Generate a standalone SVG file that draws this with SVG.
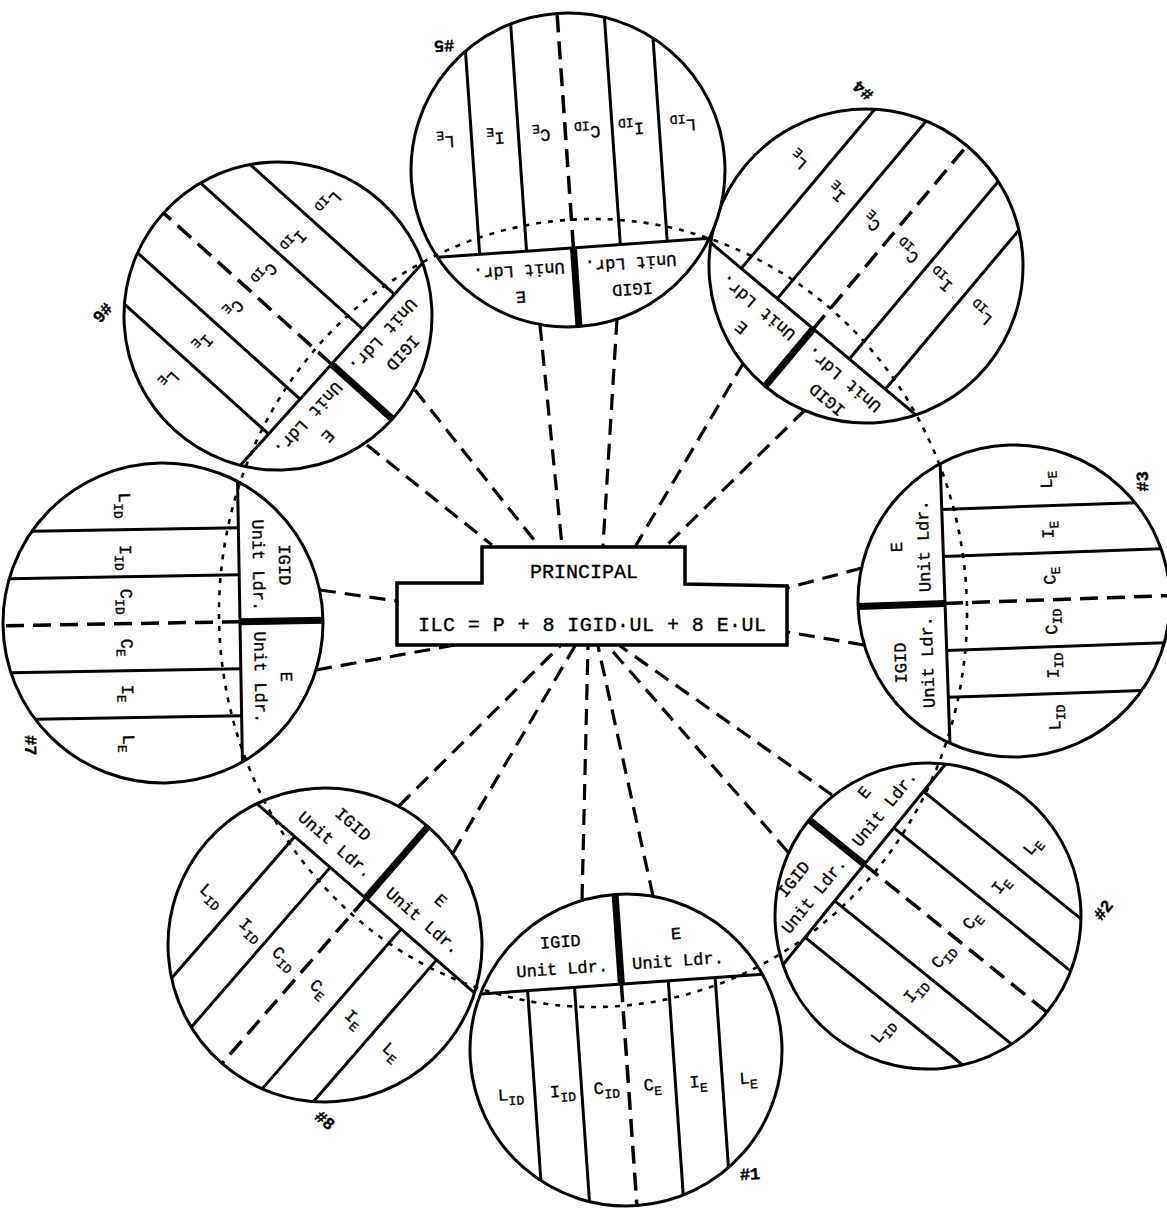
<svg xmlns="http://www.w3.org/2000/svg" width="1167" height="1217" viewBox="0 0 1167 1217">
<style>
.ring{fill:#fff;stroke:#000;stroke-width:3}
.ln{stroke:#000;stroke-width:3;fill:none}
.thick{stroke:#000;stroke-width:7}
.cd{stroke:#000;stroke-width:3.5;stroke-dasharray:18 9}
.conn{stroke:#000;stroke-width:3.2;stroke-dasharray:16 9;fill:none}
.dot{fill:none;stroke:#000;stroke-width:2.6;stroke-dasharray:5 7}
.bx{fill:#fff;stroke:#000;stroke-width:3.5}
text{font-family:"Liberation Mono","DejaVu Sans Mono",monospace;fill:#000;stroke:#000;stroke-width:0.35}
.cap{font-size:17px;text-anchor:middle}
.lb{font-size:17px;text-anchor:middle}
.sb{font-size:13px}
.num{font-size:17px;font-weight:bold;text-anchor:middle}
.t1{font-size:20px;text-anchor:middle}
</style>
<rect width="1167" height="1217" fill="#fff"/>
<g id="connectors">
<line class="conn" x1="540" y1="325" x2="562" y2="546"/>
<line class="conn" x1="617" y1="319" x2="603" y2="546"/>
<line class="conn" x1="744" y1="362" x2="635" y2="547"/>
<line class="conn" x1="805" y1="410" x2="665" y2="547"/>
<line class="conn" x1="367" y1="445" x2="492" y2="545"/>
<line class="conn" x1="415" y1="390" x2="538" y2="545"/>
<line class="conn" x1="320" y1="590" x2="397" y2="601"/>
<line class="conn" x1="316" y1="670" x2="455" y2="645"/>
<line class="conn" x1="862" y1="568" x2="787" y2="588"/>
<line class="conn" x1="864" y1="645" x2="787" y2="632"/>
<line class="conn" x1="399" y1="806" x2="560" y2="646"/>
<line class="conn" x1="453" y1="853" x2="575" y2="646"/>
<line class="conn" x1="582" y1="900" x2="588" y2="646"/>
<line class="conn" x1="653" y1="896" x2="598" y2="646"/>
<line class="conn" x1="788" y1="852" x2="608" y2="646"/>
<line class="conn" x1="832" y1="795" x2="620" y2="646"/>
</g>
<g id="principal">
<path class="bx" d="M397,583 H482 V547 H685 V584 L787,586 V645 H397 Z"/>
<text class="t1" x="584" y="578">PRINCIPAL</text>
<text class="t1" x="592" y="631" textLength="348" lengthAdjust="spacing">ILC = P + 8 IGID·UL + 8 E·UL</text>
</g>

<g id="circle-1" transform="translate(626,1050) rotate(-4)">
<circle class="ring" r="156"/>
<line class="ln" x1="-141.4" y1="-66" x2="141.4" y2="-66"/>
<line class="thick" x1="0" y1="-156" x2="0" y2="-66"/>
<line class="ln" x1="-94" y1="-66" x2="-94" y2="124.5"/>
<line class="ln" x1="-47" y1="-66" x2="-47" y2="148.8"/>
<line class="ln" x1="47" y1="-66" x2="47" y2="148.8"/>
<line class="ln" x1="94" y1="-66" x2="94" y2="124.5"/>
<line class="cd" x1="0" y1="-66" x2="0" y2="156"/>
<text class="cap" x="-58" y="-107">IGID</text><text class="cap" x="-58" y="-80">Unit Ldr.</text>
<text class="cap" x="58" y="-107">E</text><text class="cap" x="58" y="-80">Unit Ldr.</text>
<text class="lb" x="-118" y="42">L<tspan class="sb" dy="5">ID</tspan></text>
<text class="lb" x="-66" y="42">I<tspan class="sb" dy="5">ID</tspan></text>
<text class="lb" x="-22" y="42">C<tspan class="sb" dy="5">ID</tspan></text>
<text class="lb" x="24" y="42">C<tspan class="sb" dy="5">E</tspan></text>
<text class="lb" x="70" y="42">I<tspan class="sb" dy="5">E</tspan></text>
<text class="lb" x="120" y="42">L<tspan class="sb" dy="5">E</tspan></text>
<text class="num" x="115" y="138">#1</text>
</g>

<g id="circle-2" transform="translate(928,916) rotate(-51)">
<circle class="ring" r="153"/>
<line class="ln" x1="-129.2" y1="-82" x2="129.2" y2="-82"/>
<line class="thick" x1="0" y1="-153" x2="0" y2="-82"/>
<line class="ln" x1="-94" y1="-82" x2="-94" y2="120.7"/>
<line class="ln" x1="-47" y1="-82" x2="-47" y2="145.6"/>
<line class="ln" x1="47" y1="-82" x2="47" y2="145.6"/>
<line class="ln" x1="94" y1="-82" x2="94" y2="120.7"/>
<line class="cd" x1="0" y1="-82" x2="0" y2="153"/>
<text class="cap" x="-56" y="-122">IGID</text><text class="cap" x="-56" y="-96">Unit Ldr.</text>
<text class="cap" x="56" y="-122">E</text><text class="cap" x="56" y="-96">Unit Ldr.</text>
<text class="lb" x="-118" y="42">L<tspan class="sb" dy="5">ID</tspan></text>
<text class="lb" x="-66" y="42">I<tspan class="sb" dy="5">ID</tspan></text>
<text class="lb" x="-22" y="42">C<tspan class="sb" dy="5">ID</tspan></text>
<text class="lb" x="24" y="42">C<tspan class="sb" dy="5">E</tspan></text>
<text class="lb" x="70" y="42">I<tspan class="sb" dy="5">E</tspan></text>
<text class="lb" x="120" y="42">L<tspan class="sb" dy="5">E</tspan></text>
<text class="num" x="115" y="138">#2</text>
</g>

<g id="circle-3" transform="translate(1014,601) rotate(-92)">
<circle class="ring" r="156"/>
<line class="ln" x1="-139.9" y1="-69" x2="139.9" y2="-69"/>
<line class="thick" x1="0" y1="-156" x2="0" y2="-69"/>
<line class="ln" x1="-94" y1="-69" x2="-94" y2="124.5"/>
<line class="ln" x1="-47" y1="-69" x2="-47" y2="148.8"/>
<line class="ln" x1="47" y1="-69" x2="47" y2="148.8"/>
<line class="ln" x1="94" y1="-69" x2="94" y2="124.5"/>
<line class="cd" x1="0" y1="-69" x2="0" y2="156"/>
<text class="cap" x="-58" y="-110">IGID</text><text class="cap" x="-58" y="-83">Unit Ldr.</text>
<text class="cap" x="58" y="-110">E</text><text class="cap" x="58" y="-83">Unit Ldr.</text>
<text class="lb" x="-118" y="42">L<tspan class="sb" dy="5">ID</tspan></text>
<text class="lb" x="-66" y="42">I<tspan class="sb" dy="5">ID</tspan></text>
<text class="lb" x="-22" y="42">C<tspan class="sb" dy="5">ID</tspan></text>
<text class="lb" x="24" y="42">C<tspan class="sb" dy="5">E</tspan></text>
<text class="lb" x="70" y="42">I<tspan class="sb" dy="5">E</tspan></text>
<text class="lb" x="120" y="42">L<tspan class="sb" dy="5">E</tspan></text>
<text class="num" x="115" y="138">#3</text>
</g>

<g id="circle-4" transform="translate(866,266) rotate(-140)">
<circle class="ring" r="157"/>
<line class="ln" x1="-133.9" y1="-82" x2="133.9" y2="-82"/>
<line class="thick" x1="0" y1="-157" x2="0" y2="-82"/>
<line class="ln" x1="-94" y1="-82" x2="-94" y2="125.7"/>
<line class="ln" x1="-47" y1="-82" x2="-47" y2="149.8"/>
<line class="ln" x1="47" y1="-82" x2="47" y2="149.8"/>
<line class="ln" x1="94" y1="-82" x2="94" y2="125.7"/>
<line class="cd" x1="0" y1="-82" x2="0" y2="157"/>
<text class="cap" x="-56" y="-122">IGID</text><text class="cap" x="-56" y="-96">Unit Ldr.</text>
<text class="cap" x="56" y="-122">E</text><text class="cap" x="56" y="-96">Unit Ldr.</text>
<text class="lb" x="-118" y="42">L<tspan class="sb" dy="5">ID</tspan></text>
<text class="lb" x="-66" y="42">I<tspan class="sb" dy="5">ID</tspan></text>
<text class="lb" x="-22" y="42">C<tspan class="sb" dy="5">ID</tspan></text>
<text class="lb" x="24" y="42">C<tspan class="sb" dy="5">E</tspan></text>
<text class="lb" x="70" y="42">I<tspan class="sb" dy="5">E</tspan></text>
<text class="lb" x="120" y="42">L<tspan class="sb" dy="5">E</tspan></text>
<text class="num" x="115" y="138">#4</text>
</g>

<g id="circle-5" transform="translate(568,170) rotate(176)">
<circle class="ring" r="157"/>
<line class="ln" x1="-136.3" y1="-78" x2="136.3" y2="-78"/>
<line class="thick" x1="0" y1="-157" x2="0" y2="-78"/>
<line class="ln" x1="-94" y1="-78" x2="-94" y2="125.7"/>
<line class="ln" x1="-47" y1="-78" x2="-47" y2="149.8"/>
<line class="ln" x1="47" y1="-78" x2="47" y2="149.8"/>
<line class="ln" x1="94" y1="-78" x2="94" y2="125.7"/>
<line class="cd" x1="0" y1="-78" x2="0" y2="157"/>
<text class="cap" x="-56" y="-118">IGID</text><text class="cap" x="-56" y="-92">Unit Ldr.</text>
<text class="cap" x="56" y="-118">E</text><text class="cap" x="56" y="-92">Unit Ldr.</text>
<text class="lb" x="-118" y="42">L<tspan class="sb" dy="5">ID</tspan></text>
<text class="lb" x="-66" y="42">I<tspan class="sb" dy="5">ID</tspan></text>
<text class="lb" x="-22" y="42">C<tspan class="sb" dy="5">ID</tspan></text>
<text class="lb" x="24" y="42">C<tspan class="sb" dy="5">E</tspan></text>
<text class="lb" x="70" y="42">I<tspan class="sb" dy="5">E</tspan></text>
<text class="lb" x="120" y="42">L<tspan class="sb" dy="5">E</tspan></text>
<text class="num" x="115" y="138">#5</text>
</g>

<g id="circle-6" transform="translate(278,316) rotate(132)">
<circle class="ring" r="154"/>
<line class="ln" x1="-136.1" y1="-72" x2="136.1" y2="-72"/>
<line class="thick" x1="0" y1="-154" x2="0" y2="-72"/>
<line class="ln" x1="-94" y1="-72" x2="-94" y2="122"/>
<line class="ln" x1="-47" y1="-72" x2="-47" y2="146.7"/>
<line class="ln" x1="47" y1="-72" x2="47" y2="146.7"/>
<line class="ln" x1="94" y1="-72" x2="94" y2="122"/>
<line class="cd" x1="0" y1="-72" x2="0" y2="154"/>
<text class="cap" x="-56" y="-112">IGID</text><text class="cap" x="-56" y="-86">Unit Ldr.</text>
<text class="cap" x="56" y="-112">E</text><text class="cap" x="56" y="-86">Unit Ldr.</text>
<text class="lb" x="-118" y="42">L<tspan class="sb" dy="5">ID</tspan></text>
<text class="lb" x="-66" y="42">I<tspan class="sb" dy="5">ID</tspan></text>
<text class="lb" x="-22" y="42">C<tspan class="sb" dy="5">ID</tspan></text>
<text class="lb" x="24" y="42">C<tspan class="sb" dy="5">E</tspan></text>
<text class="lb" x="70" y="42">I<tspan class="sb" dy="5">E</tspan></text>
<text class="lb" x="120" y="42">L<tspan class="sb" dy="5">E</tspan></text>
<text class="num" x="115" y="138">#6</text>
</g>

<g id="circle-7" transform="translate(163,623) rotate(89)">
<circle class="ring" r="160"/>
<line class="ln" x1="-140.3" y1="-77" x2="140.3" y2="-77"/>
<line class="thick" x1="0" y1="-160" x2="0" y2="-77"/>
<line class="ln" x1="-94" y1="-77" x2="-94" y2="129.5"/>
<line class="ln" x1="-47" y1="-77" x2="-47" y2="152.9"/>
<line class="ln" x1="47" y1="-77" x2="47" y2="152.9"/>
<line class="ln" x1="94" y1="-77" x2="94" y2="129.5"/>
<line class="cd" x1="0" y1="-77" x2="0" y2="160"/>
<text class="cap" x="-56" y="-117">IGID</text><text class="cap" x="-56" y="-91">Unit Ldr.</text>
<text class="cap" x="56" y="-117">E</text><text class="cap" x="56" y="-91">Unit Ldr.</text>
<text class="lb" x="-118" y="42">L<tspan class="sb" dy="5">ID</tspan></text>
<text class="lb" x="-66" y="42">I<tspan class="sb" dy="5">ID</tspan></text>
<text class="lb" x="-22" y="42">C<tspan class="sb" dy="5">ID</tspan></text>
<text class="lb" x="24" y="42">C<tspan class="sb" dy="5">E</tspan></text>
<text class="lb" x="70" y="42">I<tspan class="sb" dy="5">E</tspan></text>
<text class="lb" x="120" y="42">L<tspan class="sb" dy="5">E</tspan></text>
<text class="num" x="120" y="140">#7</text>
</g>

<g id="circle-8" transform="translate(325,945) rotate(41)">
<circle class="ring" r="157"/>
<line class="ln" x1="-144.2" y1="-62" x2="144.2" y2="-62"/>
<line class="thick" x1="0" y1="-157" x2="0" y2="-62"/>
<line class="ln" x1="-94" y1="-62" x2="-94" y2="125.7"/>
<line class="ln" x1="-47" y1="-62" x2="-47" y2="149.8"/>
<line class="ln" x1="47" y1="-62" x2="47" y2="149.8"/>
<line class="ln" x1="94" y1="-62" x2="94" y2="125.7"/>
<line class="cd" x1="0" y1="-62" x2="0" y2="157"/>
<text class="cap" x="-58" y="-104">IGID</text><text class="cap" x="-58" y="-77">Unit Ldr.</text>
<text class="cap" x="58" y="-104">E</text><text class="cap" x="58" y="-77">Unit Ldr.</text>
<text class="lb" x="-118" y="42">L<tspan class="sb" dy="5">ID</tspan></text>
<text class="lb" x="-66" y="42">I<tspan class="sb" dy="5">ID</tspan></text>
<text class="lb" x="-22" y="42">C<tspan class="sb" dy="5">ID</tspan></text>
<text class="lb" x="24" y="42">C<tspan class="sb" dy="5">E</tspan></text>
<text class="lb" x="70" y="42">I<tspan class="sb" dy="5">E</tspan></text>
<text class="lb" x="120" y="42">L<tspan class="sb" dy="5">E</tspan></text>
<text class="num" x="115" y="138">#8</text>
</g>

<g id="ring-path">
<ellipse class="dot" cx="593" cy="613" rx="374" ry="394"/>
</g>
</svg>
